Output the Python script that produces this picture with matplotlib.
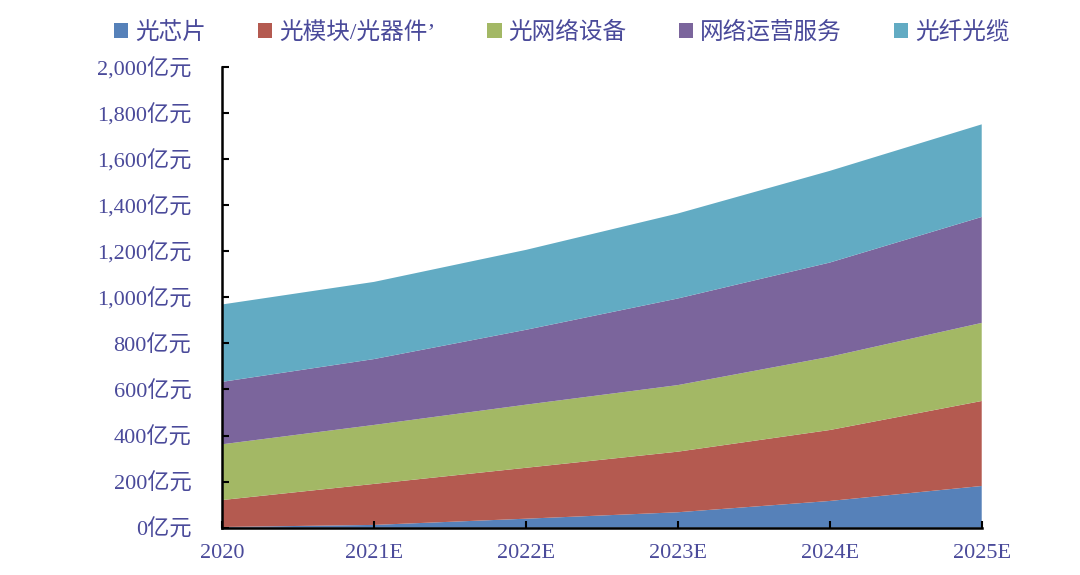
import numpy as np
import matplotlib
matplotlib.use("Agg")
import matplotlib.pyplot as plt
from matplotlib.patches import Patch
from matplotlib.ticker import FuncFormatter

plt.rcParams['font.family'] = ['Liberation Serif', 'Noto Sans CJK SC']

years = ['2020', '2021E', '2022E', '2023E', '2024E', '2025E']
names = ['光芯片', '光模块/光器件’', '光网络设备', '网络运营服务', '光纤光缆']
chip = [3, 12, 39, 67, 116, 181]
module = [117, 178, 221, 263, 308, 369]
netdev = [242, 256, 274, 289, 318, 339]
service = [271, 286, 325, 376, 409, 460]
fiber = [336, 335, 347, 369, 398, 402]
colors = ['#5681b9', '#b45a50', '#a3b865', '#7b659c', '#62abc3']
txt = '#4a4a9a'

fig = plt.figure(figsize=(10.8, 5.75), dpi=100)
ax = fig.add_axes([0.2056, 0.0823, 0.7034, 0.8012])

x = np.arange(len(years))
ax.stackplot(x, chip, module, netdev, service, fiber, colors=colors, linewidth=0)

ax.set_xlim(0, 5)
ax.set_ylim(0, 2000)
ax.set_yticks(np.arange(0, 2001, 200))
ax.yaxis.set_major_formatter(FuncFormatter(lambda v, p: '{:,.0f}亿元'.format(v)))
ax.set_xticks(x)
ax.set_xticklabels(years)

for s in ['top', 'right']:
    ax.spines[s].set_visible(False)
for s in ['left', 'bottom']:
    ax.spines[s].set_linewidth(1.8)
    ax.spines[s].set_color('black')
ax.tick_params(axis='both', direction='in', length=5, width=1.5, colors='black',
               labelcolor=txt)
ax.tick_params(axis='y', pad=22, labelsize=16)
ax.tick_params(axis='x', pad=12, labelsize=16)
for lab in ax.get_yticklabels():
    lab.set_horizontalalignment('right')

handles = [Patch(facecolor=c, edgecolor='none') for c in colors]
leg = fig.legend(handles, names, loc='upper center', bbox_to_anchor=(0.52, 1.0),
                 ncol=5, frameon=False, fontsize=17, handlelength=0.6, handleheight=0.6,
                 handletextpad=0.3, columnspacing=2.2)
for t in leg.get_texts():
    t.set_color(txt)

fig.savefig('out.png', dpi=100)
